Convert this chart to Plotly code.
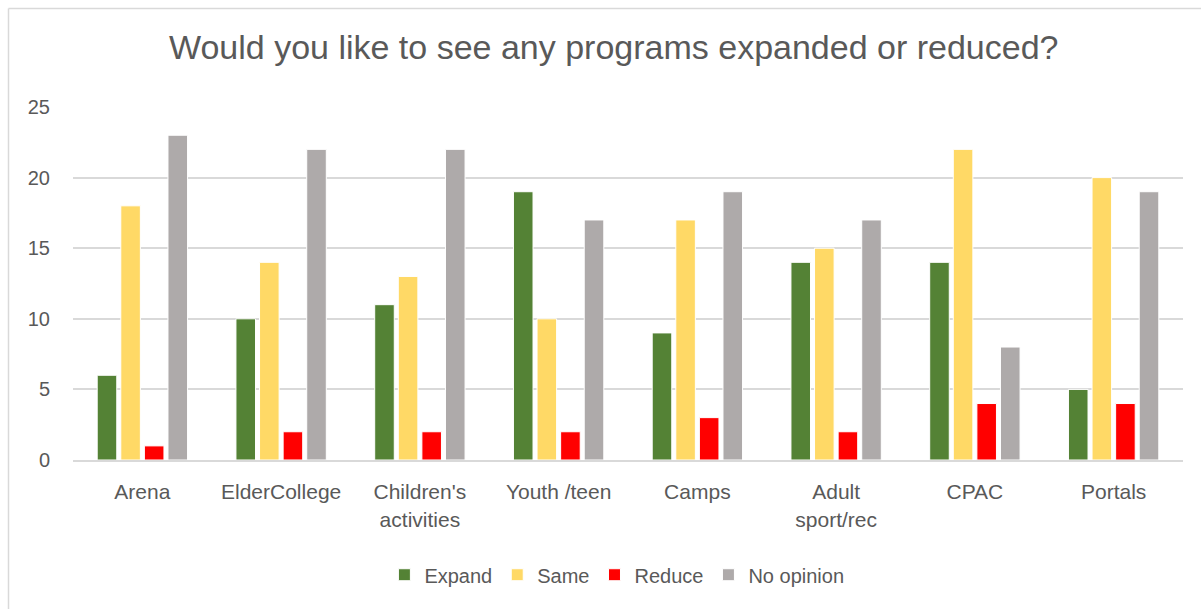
import plotly.graph_objects as go

# Survey responses per program
categories = ["Arena", "ElderCollege", "Children's<br>activities", "Youth /teen",
              "Camps", "Adult<br>sport/rec", "CPAC", "Portals"]
expand = [6, 10, 11, 19, 9, 14, 14, 5]
same = [18, 14, 13, 10, 17, 15, 22, 20]
reduce = [1, 2, 2, 2, 3, 2, 4, 4]
no_opinion = [23, 22, 22, 17, 19, 17, 8, 19]

series = [
    ("Expand", expand, "#548235"),
    ("Same", same, "#FFD966"),
    ("Reduce", reduce, "#FF0000"),
    ("No opinion", no_opinion, "#AEAAAA"),
]

font_family = "Liberation Sans, Arial, sans-serif"
text_color = "#595959"

fig = go.Figure()
for name, vals, color in series:
    fig.add_trace(go.Bar(
        name=name, x=categories, y=vals,
        marker=dict(color=color, line=dict(color="white", width=1)),
    ))

W, H = 1201, 609
ml, mr, mt, mb = 73, W - 1183, 107, H - 460

fig.update_layout(
    width=W, height=H,
    margin=dict(l=ml, r=mr, t=mt, b=mb),
    paper_bgcolor="white", plot_bgcolor="white",
    barmode="group", bargap=0.32, bargroupgap=0.17,
    font=dict(family=font_family, color=text_color, size=19),
    title=dict(text="Would you like to see any programs expanded or reduced?",
               x=0.511, xanchor="center", y=1 - 47 / H, yanchor="middle",
               font=dict(size=34, color=text_color, family=font_family)),
    xaxis=dict(showgrid=False, showline=True, linecolor="#D9D9D9", linewidth=2,
               ticks="", ticklabelstandoff=12,
               tickfont=dict(size=21, color=text_color)),
    yaxis=dict(range=[0, 25], dtick=5, showgrid=True, gridcolor="#D9D9D9",
               gridwidth=1.5, zeroline=False, showline=False, ticks="",
               ticklabelstandoff=22,
               tickfont=dict(size=20, color=text_color)),
    legend=dict(orientation="h", x=0.49, xanchor="center", y=-0.325, yanchor="middle",
                font=dict(size=20, color=text_color), traceorder="normal",
                itemwidth=30),
    showlegend=True,
)

# Chart-area border (left and top edges)
pw, ph = 1183 - 73, 460 - 107
def px_x(x):
    return (x - 73) / pw
def px_y(y):
    return (460 - y) / ph

fig.add_shape(type="line", xref="paper", yref="paper",
              x0=px_x(8.5), x1=px_x(8.5), y0=px_y(8.5), y1=px_y(620),
              line=dict(color="#D9D9D9", width=1.5))
fig.add_shape(type="line", xref="paper", yref="paper",
              x0=px_x(8.5), x1=px_x(1210), y0=px_y(8.5), y1=px_y(8.5),
              line=dict(color="#D9D9D9", width=1.5))

fig.write_html("out.html")
